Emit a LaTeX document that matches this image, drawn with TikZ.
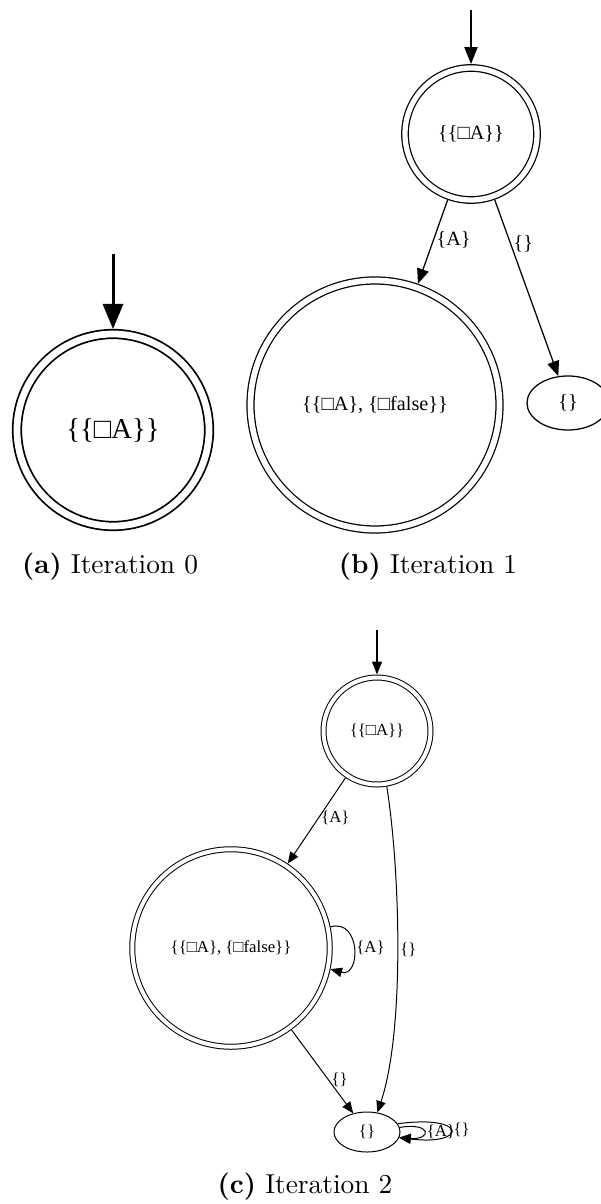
\documentclass[tikz,border=0pt]{standalone}
\usepackage{fontspec}
\newfontfamily\gvfont{Liberation Serif}
\usetikzlibrary{arrows.meta,shapes.geometric}

\begin{document}
\begin{tikzpicture}[x=0.4pt,y=-0.4pt,
  accstate/.style={circle, draw, double, inner sep=0pt},
  plainstate/.style={ellipse, draw, inner sep=0pt},
  lbl/.style={inner sep=1pt},
  caption/.style={font=\fontsize{10.95}{13.6}\selectfont}]
\useasboundingbox (0,0) rectangle (600,1204);

\begin{scope}[font=\gvfont\fontsize{11.5}{13.8}\selectfont, line width=0.7pt, double distance=2.7pt, >={Triangle[length=10pt,width=8pt]}]
\node[accstate, minimum size=76.8pt, outer sep=2pt] (a1) at (113,430) {\{\{□A\}\}};
\coordinate (a0) at (113,254);
\draw[->, line width=1.2pt] (a0) -- (a1);
\end{scope}

\begin{scope}[font=\gvfont\fontsize{8.1}{9.7}\selectfont, line width=0.5pt, double distance=2.1pt, >={Triangle[length=6pt,width=4.8pt]}]
\node[accstate, minimum size=52.8pt, outer sep=1.55pt] (b1) at (471,134) {\{\{□A\}\}};
\node[accstate, minimum size=99.6pt, outer sep=1.65pt, double distance=2.3pt] (b2) at (375,405) {\{\{□A\}, \{□false\}\}};
\node[plainstate, minimum width=32.8pt, minimum height=21.6pt] (b3) at (568,403) {\{\}};
\coordinate (b0) at (471,10);
\draw[->, line width=0.8pt, >={Triangle[length=6.8pt,width=5.2pt]}] (b0) -- (b1);
\draw[->] (b1) -- node[lbl, right, pos=0.48] {\{A\}} (b2);
\draw[->] (b1) -- node[lbl, right, pos=0.25] {\{\}} (b3);
\end{scope}

\begin{scope}[font=\gvfont\fontsize{6.7}{8}\selectfont, line width=0.4pt, double distance=1.6pt, >={Triangle[length=4.6pt,width=3.8pt]}]
\node[accstate, minimum size=42.8pt, outer sep=1.2pt] (c1) at (377,731) {\{\{□A\}\}};
\node[accstate, minimum size=79pt, outer sep=1.2pt] (c2) at (231,948) {\{\{□A\}, \{□false\}\}};
\node[plainstate, minimum width=26.4pt, minimum height=16pt] (c3) at (367,1132) {\{\}};
\coordinate (c0) at (377,630);
\draw[->, line width=0.6pt, >={Triangle[length=5.2pt,width=4pt]}] (c0) -- (c1);
\draw[->] (c1) -- node[lbl, right, pos=0.47] {\{A\}} (c2);
\draw[->] (c1.-80) .. controls (400,870) and (405,1030) .. node[lbl, right, pos=0.5] {\{\}} (c3.62);
\draw[->] (c2) -- node[lbl, right, pos=0.6] {\{\}} (c3);
\draw[->] (c2.12) .. controls (361,918) and (361,978) .. node[lbl, right] {\{A\}} (c2.-12);
\draw[->] (c3.8) .. controls (432,1122) and (432,1140) .. node[lbl, right] {\{A\}} (c3.-10);
\draw[->] (c3.15) .. controls (468,1114) and (468,1146) .. node[lbl, right] {\{\}} (c3.-10);
\end{scope}

\node[caption] (capa) at (110,567) {\textbf{(a)} Iteration 0};
\node[caption] (capb) at (428,567) {\textbf{(b)} Iteration 1};
\node[caption] (capc) at (305,1187) {\textbf{(c)} Iteration 2};
\end{tikzpicture}
\end{document}
